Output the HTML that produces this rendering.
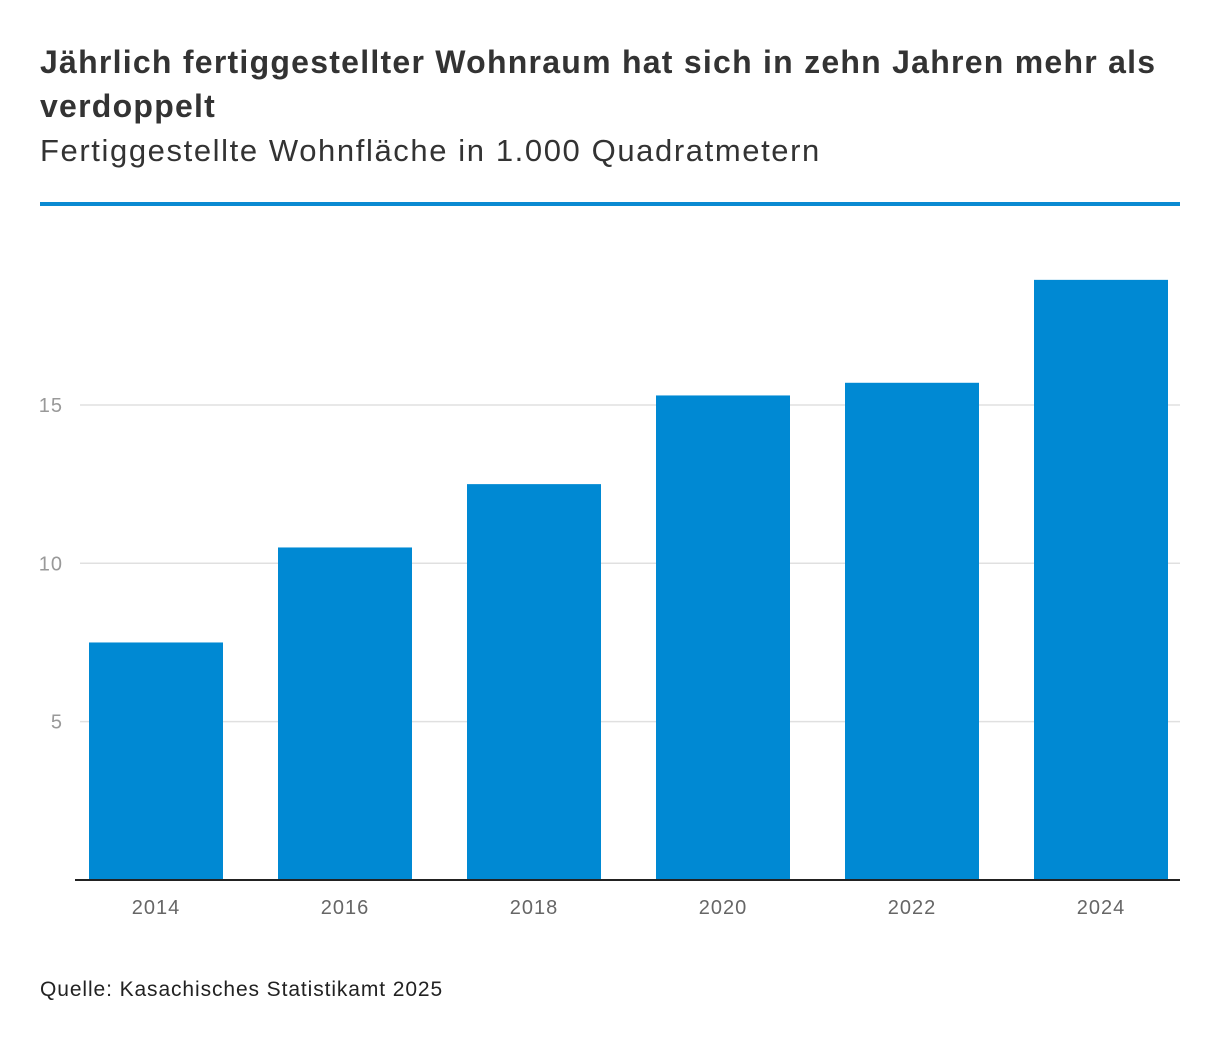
<!DOCTYPE html>
<html><head><meta charset="utf-8">
<style>
body{margin:0;width:1220px;height:1046px;background:#fff;font-family:"Liberation Sans",sans-serif;position:relative;overflow:hidden}
h1{position:absolute;left:40px;top:40px;margin:0;width:1160px;font-size:32px;line-height:44px;font-weight:bold;color:#333;letter-spacing:1.25px}
.sub{position:absolute;left:40px;top:133px;font-size:31px;color:#333;letter-spacing:1.6px}
.rule{position:absolute;left:40px;top:202px;width:1140px;height:4px;background:#0a8ad2}
.src{position:absolute;left:40px;top:978px;font-size:21px;color:#222;letter-spacing:0.9px}
</style></head><body>
<h1>Jährlich fertiggestellter Wohnraum hat sich in zehn Jahren mehr als verdoppelt</h1>
<div class="sub">Fertiggestellte Wohnfläche in 1.000 Quadratmetern</div>
<div class="rule"></div>
<svg id="chart" width="1220" height="1046" style="position:absolute;left:0;top:0"></svg>
<div class="src">Quelle: Kasachisches Statistikamt 2025</div>
<script>
const categories=["2014","2016","2018","2020","2022","2024"];
const values=[7.5,10.5,12.5,15.3,15.7,18.95];
const yTicks=[5,10,15];
const NS="http://www.w3.org/2000/svg";
const svg=document.getElementById("chart");
const y0=880,pxPer=31.67;
function y(v){return y0-v*pxPer;}
function x(i){return 89+i*189;}
const bw=134;
function mk(t,a){const e=document.createElementNS(NS,t);for(const k in a)e.setAttribute(k,a[k]);svg.appendChild(e);return e;}
yTicks.forEach(t=>{
  const g=mk("line",{x1:80,x2:1180,y1:y(t),y2:y(t),stroke:"#e0e0e0","stroke-width":1.5});
  
  
  const l=mk("text",{x:63,y:y(t)+7,"text-anchor":"end","font-size":20,fill:"#999","font-family":"Liberation Sans, sans-serif","letter-spacing":1});
  l.textContent=t;
  
  
});
values.forEach((v,i)=>{
  const r=mk("rect",{x:x(i),y:y(v),width:bw,height:y0-y(v),fill:"#0089d3"});
  
  
  const l=mk("text",{x:x(i)+bw/2,y:914,"text-anchor":"middle","font-size":20,fill:"#666","font-family":"Liberation Sans, sans-serif","letter-spacing":1});
  l.textContent=categories[i];
  
  
});
const ax=mk("line",{x1:75,x2:1180,y1:y0,y2:y0,stroke:"#222","stroke-width":2});


</script>
</body></html>
